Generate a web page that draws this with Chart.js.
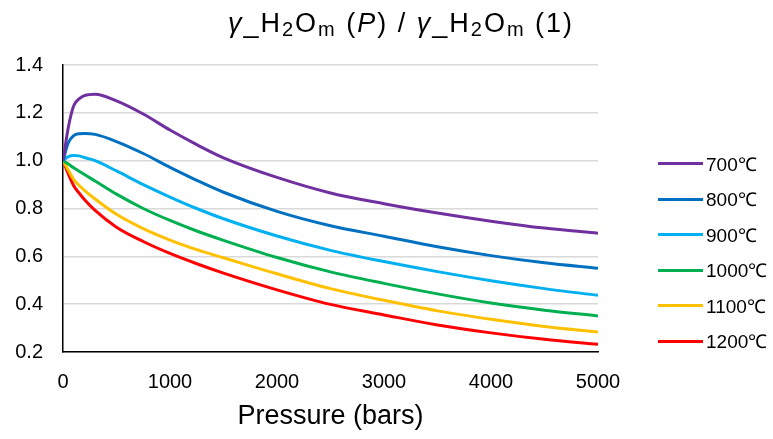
<!DOCTYPE html>
<html>
<head>
<meta charset="utf-8">
<script src="https://cdn.jsdelivr.net/npm/chart.js@4.4.1/dist/chart.umd.min.js"></script>
<style>
body{margin:0;background:#fff;}
#wrap{position:relative;width:773px;height:439px;}
#title{position:absolute;left:28px;width:746px;top:9px;text-align:center;letter-spacing:2px;
font-family:"Liberation Sans",Arial,sans-serif;font-size:27px;line-height:28px;color:#000;white-space:nowrap;}
#title sub{font-size:20px;line-height:0;vertical-align:-4px;}
#legend{position:absolute;left:658px;top:146px;font-family:"Liberation Sans",Arial,sans-serif;font-size:19px;color:#000;}
#legend .item{display:flex;align-items:center;height:35.5px;white-space:nowrap;}
#legend .swatch{display:inline-block;width:45px;height:3px;margin-right:3px;}
</style>
</head>
<body>
<div id="wrap">
<canvas id="chart" width="773" height="439"></canvas>
<div id="title"><i>γ</i>_H<sub>2</sub>O<sub>m</sub> (<i>P</i>) / <i>γ</i>_H<sub>2</sub>O<sub>m</sub> (1)</div>
<div id="legend"></div>
</div>
<script>
const pressures = [0, 50, 100, 150, 200, 300, 500, 750, 1000, 1250, 1500, 2000, 2500, 3000, 3500, 4000, 4500, 5000];

const temps = ["700℃", "800℃", "900℃", "1000℃", "1100℃", "1200℃"];

const t700  = [1.0, 1.14, 1.23, 1.258, 1.272, 1.278, 1.25, 1.195, 1.128, 1.067, 1.012, 0.93, 0.865, 0.82, 0.781, 0.747, 0.718, 0.697];
const t800  = [1.0, 1.075, 1.105, 1.113, 1.114, 1.11, 1.08, 1.03, 0.972, 0.918, 0.868, 0.788, 0.728, 0.684, 0.64, 0.603, 0.573, 0.55];
const t900  = [1.0, 1.017, 1.022, 1.02, 1.013, 1.0, 0.957, 0.9, 0.848, 0.8, 0.757, 0.685, 0.625, 0.578, 0.536, 0.498, 0.465, 0.437];
const t1000 = [1.0, 0.986, 0.97, 0.956, 0.942, 0.915, 0.86, 0.8, 0.75, 0.706, 0.667, 0.595, 0.535, 0.487, 0.443, 0.405, 0.375, 0.351];
const t1100 = [1.0, 0.96, 0.921, 0.897, 0.876, 0.84, 0.776, 0.716, 0.668, 0.628, 0.594, 0.527, 0.465, 0.416, 0.372, 0.337, 0.307, 0.284];
const t1200 = [1.0, 0.945, 0.895, 0.865, 0.838, 0.792, 0.722, 0.662, 0.612, 0.569, 0.53, 0.46, 0.399, 0.355, 0.313, 0.28, 0.253, 0.232];

const xTicks = [0, 1000, 2000, 3000, 4000, 5000];
const yTicks = [0.2, 0.4, 0.6, 0.8, 1.0, 1.2, 1.4];

const series = [t700, t800, t900, t1000, t1100, t1200];
const colors = ["#7030A0", "#0070C0", "#00B0F0", "#00B050", "#FFC000", "#FF0000"];

const font = "'Liberation Sans', Arial, sans-serif";

const datasets = series.map((vals, i) => ({
  label: temps[i],
  data: pressures.map((p, j) => ({x: p, y: vals[j]})),
  borderColor: colors[i],
  backgroundColor: colors[i],
  borderWidth: 3,
  pointRadius: 0,
  cubicInterpolationMode: "monotone",
  fill: false
}));

/* legend built from the same labels and colours */
const legend = document.getElementById("legend");
temps.forEach((t, i) => {
  let item = document.createElement("div");
  item.className = "item";
  let sw = document.createElement("span");
  sw.className = "swatch";
  sw.style.background = colors[i];
  let txt = document.createElement("span");
  txt.innerText = t;
  item.appendChild(sw);
  item.appendChild(txt);
  legend.appendChild(item);
});

new Chart(document.getElementById("chart"), {
  type: "line",
  data: {datasets: datasets},
  options: {
    responsive: false,
    animation: false,
    layout: {padding: {top: 65, left: 0, right: 175, bottom: 0}},
    plugins: {
      title: {display: false},
      tooltip: {enabled: false},
      legend: {display: false}
    },
    scales: {
      x: {
        type: "linear",
        min: 0,
        max: 5000,
        afterBuildTicks: s => { s.ticks = xTicks.map(v => ({value: v})); },
        afterFit: s => { s.height = 87; },
        grid: {display: false, drawTicks: false},
        border: {display: true, color: "#000", width: 1.5},
        ticks: {color: "#000", padding: 18, maxRotation: 0, font: {family: font, size: 20}, callback: v => String(v)},
        title: {display: true, text: "Pressure (bars)", color: "#000", padding: {top: 0, bottom: 6}, font: {family: font, size: 27}}
      },
      y: {
        min: 0.2,
        max: 1.4,
        afterBuildTicks: s => { s.ticks = yTicks.map(v => ({value: v})); },
        afterFit: s => { s.width = 63; },
        grid: {color: "#d9d9d9", lineWidth: 1.5, drawTicks: false},
        border: {display: true, color: "#000", width: 1.5},
        ticks: {color: "#000", padding: 20, font: {family: font, size: 20}, callback: v => v.toFixed(1)}
      }
    }
  }
});
</script>
</body>
</html>
